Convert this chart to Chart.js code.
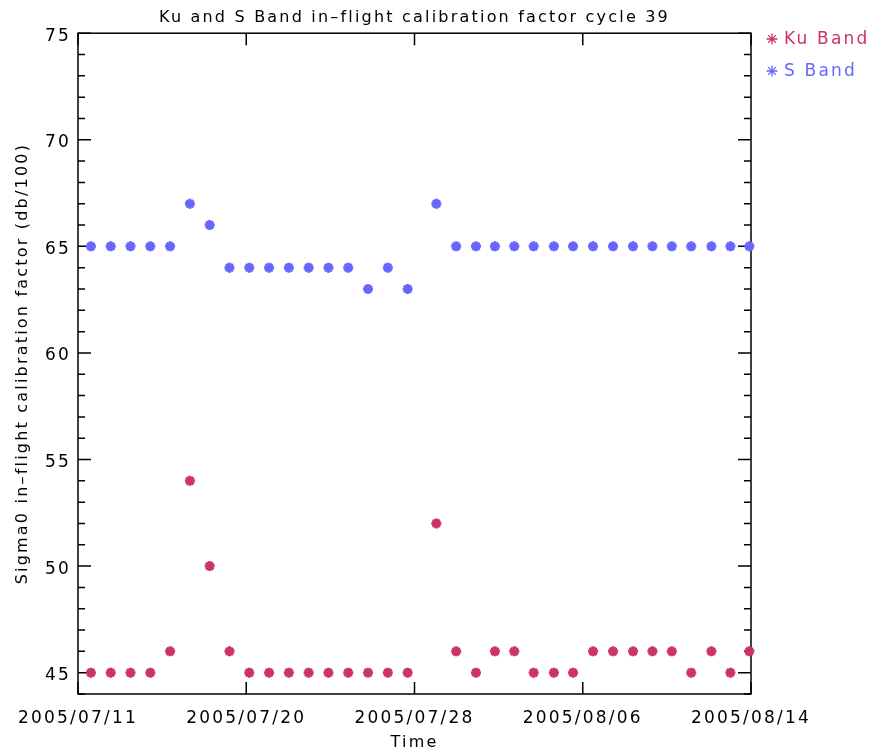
<!DOCTYPE html>
<html><head><meta charset="utf-8">
<script src="https://cdn.jsdelivr.net/npm/chart.js@4/dist/chart.umd.min.js"></script>
<style>html,body{margin:0;padding:0;background:#fff}canvas{display:block}</style>
</head><body>
<canvas id="c" width="875" height="753"></canvas>
<script>
const chartTitle = 'Ku and S Band in\u2013flight calibration factor cycle 39';
const xAxisTitle = 'Time';
const yAxisTitle = 'Sigma0 in\u2013flight calibration factor (db/100)';
const seriesNames = ['Ku Band', 'S Band'];

const obsTimes = [
  '2005-07-12T03:40Z','2005-07-13T03:40Z','2005-07-14T03:40Z','2005-07-15T03:40Z',
  '2005-07-16T03:40Z','2005-07-17T03:40Z','2005-07-18T03:40Z','2005-07-19T03:40Z',
  '2005-07-20T03:40Z','2005-07-21T03:40Z','2005-07-22T03:40Z','2005-07-23T03:40Z',
  '2005-07-24T03:40Z','2005-07-25T03:40Z','2005-07-26T03:40Z','2005-07-27T03:40Z',
  '2005-07-28T03:40Z',
  '2005-07-29T14:30Z','2005-07-30T14:30Z',
  '2005-07-31T14:30Z','2005-08-01T13:30Z','2005-08-02T13:00Z','2005-08-03T12:30Z',
  '2005-08-04T13:00Z','2005-08-05T12:15Z','2005-08-06T12:30Z','2005-08-07T12:45Z',
  '2005-08-08T13:00Z','2005-08-09T12:30Z','2005-08-10T12:00Z','2005-08-11T11:30Z',
  '2005-08-12T12:00Z','2005-08-13T11:00Z','2005-08-14T10:00Z'
];
const kuBand = [45,45,45,45,46,54,50,46,45,45,45,45,45,45,45,45,45,
                52,46,
                45,46,46,45,45,45,46,46,46,46,46,45,46,45,46];
const sBand  = [65,65,65,65,65,67,66,64,64,64,64,64,64,64,63,64,63,
                67,65,
                65,65,65,65,65,65,65,65,65,65,65,65,65,65,65];

const xTickTimes  = ['2005-07-11T12:00Z','2005-07-20T00:00Z','2005-07-28T12:00Z','2005-08-06T00:00Z','2005-08-14T12:00Z'];
const xTickLabels = ['2005/07/11','2005/07/20','2005/07/28','2005/08/06','2005/08/14'];
const yTickValues = [45,50,55,60,65,70,75];
const yMin = 44, yMax = 75;

const kuColor = '#CC3366';
const sColor = '#6666FF';
const FONT = '"DejaVu Sans", sans-serif';
const SPACING = '2.2px';

const tMs = obsTimes.map(t => Date.parse(t));
const xTicksMs = xTickTimes.map(t => Date.parse(t));

const spacingPlugin = {
  id: 'spacing',
  beforeUpdate(chart) { chart.ctx.letterSpacing = SPACING; },
  beforeLayout(chart) { chart.ctx.letterSpacing = SPACING; },
  beforeDraw(chart) { chart.ctx.letterSpacing = SPACING; }
};

const framePlugin = {
  id: 'frame',
  beforeDatasetsDraw(chart) {
    const {ctx, chartArea: a, scales: {x, y}} = chart;
    ctx.save();
    ctx.strokeStyle = '#000';
    ctx.lineWidth = 1.5;
    ctx.strokeRect(a.left, a.top, a.right - a.left, a.bottom - a.top);
    ctx.beginPath();
    for (let v = yMin; v <= yMax; v++) {
      const py = y.getPixelForValue(v);
      const len = yTickValues.includes(v) ? 13 : 7;
      ctx.moveTo(a.left, py); ctx.lineTo(a.left + len, py);
      ctx.moveTo(a.right, py); ctx.lineTo(a.right - len, py);
    }
    xTicksMs.forEach(t => {
      const px = x.getPixelForValue(t);
      ctx.moveTo(px, a.bottom); ctx.lineTo(px, a.bottom - 12);
      ctx.moveTo(px, a.top); ctx.lineTo(px, a.top + 12);
    });
    ctx.stroke();
    ctx.restore();
  }
};

const legendPlugin = {
  id: 'sideLegend',
  afterDraw(chart) {
    const {ctx} = chart;
    ctx.save();
    ctx.letterSpacing = SPACING;
    ctx.font = '17px ' + FONT;
    ctx.textAlign = 'left';
    ctx.textBaseline = 'middle';
    const rows = [39, 71];
    chart.data.datasets.forEach((ds, i) => {
      const cy = rows[i], cx = 772, r = 5.5;
      ctx.strokeStyle = ds.borderColor;
      ctx.lineWidth = 1.3;
      ctx.beginPath();
      for (let k = 0; k < 4; k++) {
        const ang = k * Math.PI / 4;
        ctx.moveTo(cx - r * Math.cos(ang), cy - r * Math.sin(ang));
        ctx.lineTo(cx + r * Math.cos(ang), cy + r * Math.sin(ang));
      }
      ctx.stroke();
      ctx.fillStyle = ds.borderColor;
      ctx.fillText(ds.label, 784, cy + 1);
    });
    ctx.restore();
  }
};

function pts(vals) { return vals.map((v, i) => ({x: tMs[i], y: v})); }

const markerOpts = {
  showLine: false, pointStyle: 'star', pointRadius: 5, pointHoverRadius: 5,
  pointBorderWidth: 3, clip: false
};

new Chart(document.getElementById('c'), {
  type: 'scatter',
  data: {
    datasets: [
      Object.assign({label: seriesNames[0], data: pts(kuBand), borderColor: kuColor, backgroundColor: kuColor}, markerOpts),
      Object.assign({label: seriesNames[1], data: pts(sBand), borderColor: sColor, backgroundColor: sColor}, markerOpts)
    ]
  },
  options: {
    responsive: false,
    animation: false,
    events: [],
    layout: {padding: {top: 0, right: 124, bottom: 0, left: 0}},
    plugins: {
      legend: {display: false},
      tooltip: {enabled: false},
      title: {
        display: true, text: chartTitle, fullSize: false, color: '#000',
        font: {family: FONT, size: 16, weight: 'normal'},
        padding: {top: 8, bottom: 6}
      }
    },
    scales: {
      x: {
        type: 'linear',
        min: xTicksMs[0], max: xTicksMs[xTicksMs.length - 1],
        afterBuildTicks(scale) { scale.ticks = xTicksMs.map(v => ({value: v})); },
        afterFit(scale) { scale.height = 59; },
        grid: {display: false, drawTicks: false},
        border: {display: false},
        ticks: {
          color: '#000', font: {family: FONT, size: 17}, padding: 14,
          maxRotation: 0, autoSkip: false,
          callback: (v, i) => xTickLabels[i]
        },
        title: {display: true, text: xAxisTitle, color: '#000', font: {family: FONT, size: 16}, padding: {top: 0, bottom: 1}}
      },
      y: {
        type: 'linear', min: yMin, max: yMax,
        afterBuildTicks(scale) { scale.ticks = yTickValues.map(v => ({value: v})); },
        afterFit(scale) { scale.width = 78; },
        grid: {display: false, drawTicks: false},
        border: {display: false},
        ticks: {color: '#000', font: {family: FONT, size: 17}, padding: 7, labelOffset: 3, callback: v => String(v)},
        title: {display: true, text: yAxisTitle, color: '#000', font: {family: FONT, size: 16}, padding: {top: 13, bottom: 0}}
      }
    }
  },
  plugins: [spacingPlugin, framePlugin, legendPlugin]
});
</script>
</body></html>
